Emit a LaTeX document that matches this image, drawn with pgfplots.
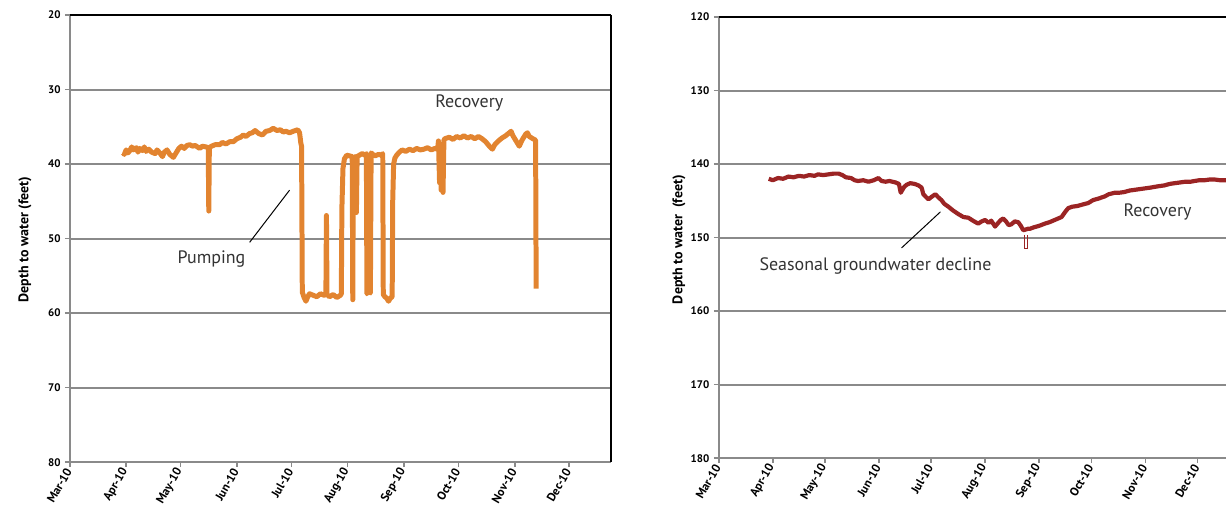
\documentclass[border=0pt]{standalone}
\usepackage{fontspec}
\setmainfont{PT Sans}
\usepackage{pgfplots}
\pgfplotsset{compat=1.18}
\definecolor{orng}{RGB}{226,132,48}
\definecolor{dred}{RGB}{155,36,36}
\definecolor{gridg}{RGB}{138,138,138}
\pgfplotsset{
 wellaxis/.style={
  scale only axis, xmin=0, y dir=reverse,
  xtick={0,31,61,92,122,153,184,214,245,275},
  xticklabels={Mar-10,Apr-10,May-10,Jun-10,Jul-10,Aug-10,Sep-10,Oct-10,Nov-10,Dec-10},
  axis line style={draw=none},
  ymajorgrids, major grid style={gridg, line width=1pt},
  tick align=outside, tick style={gridg, line width=0.8pt}, major tick length=2.5pt,
  xtick pos=bottom, ytick pos=left,
  /pgf/number format/assume math mode=true,
  ticklabel style={font=\fontsize{5.5}{6.5}\selectfont\bfseries},
  x tick label style={rotate=60, anchor=east, inner sep=1pt, font=\fontsize{6}{7}\selectfont\bfseries},
  y tick label style={inner sep=2pt},
  clip=false,
 }
}
\begin{document}
\begin{tikzpicture}
\path (0pt,0pt) rectangle (614pt,255pt);
% ---------------- left chart ----------------
\begin{axis}[wellaxis, at={(35pt,23.5pt)}, anchor=south west, xmax=298,
  width=271pt, height=224pt, ymin=20, ymax=80, ytick={20,30,...,80}]
\addplot[orng, line width=2.5pt, line join=round] coordinates {
(29.3,38.5)(30,38.7)(31,38.1)(32,38.5)(33,38.2)(34,37.7)(35,38.1)(36.6,37.8)(37.5,38.4)(38.5,37.9)
(40,38.2)(41,37.7)(42,38.3)(43.5,38.0)(45,38.4)(47,38.6)(48,38.1)(49.5,38.5)(51,39.0)(52,38.4)
(53.5,38.1)(55,38.7)(57,39.1)(58.5,38.5)(60,37.9)(61.5,37.6)(63,37.9)(64.5,37.5)(66,37.4)(67.5,37.6)
(69,37.5)(71.5,37.9)(73,37.6)(75,37.7)(76.2,37.8)(76.5,46.3)(76.8,37.8)(78,37.6)(80,37.4)(82.5,37.4)
(84,37.1)(86,37.3)(88,37.0)(90,37.0)(92,36.6)(94,36.4)(95.5,36.1)(97,36.3)(99,35.9)(100.5,35.8)
(102,35.5)(104,35.9)(106,36.1)(108,35.6)(110,35.5)(112,35.2)(114,35.5)(116,35.4)(117.5,35.7)(119,35.6)
(121,35.8)(123,35.6)(125.5,35.4)(126.5,35.8)(127.2,37.2)(127.6,37.6)(128,57.2)(129,57.9)(130,58.4)(131,57.8)
(132,57.4)(134,57.6)(136,57.8)(138,57.4)(140,57.6)(141,57.5)(141.3,46.9)(141.6,57.5)(143,57.8)(145,57.5)
(147,57.9)(149,57.6)(149.5,57.4)(149.8,46)(150.4,40.6)(151.2,39.3)(152.5,38.8)(154,38.9)(155.5,39.0)(155.8,58.2)
(156.1,39.3)(157,39.0)(157.5,39.2)(157.8,46.5)(158.2,39.0)(159.5,38.8)(161,38.6)(162.5,38.8)(163.3,38.6)(163.6,57.4)
(164.5,57.0)(165.5,57.3)(165.9,38.5)(166.8,38.7)(168,38.9)(170,38.7)(171.5,38.8)(172.3,38.6)(172.6,57.5)(173.5,57.8)
(174.5,58.0)(175.5,58.4)(176.5,58.0)(177.5,57.8)(177.8,45)(178.3,40)(179,39.2)(180,38.8)(181.5,38.4)(183,38.1)
(185,38.3)(187,38.0)(189,38.2)(191,37.9)(193,38.1)(195,38.0)(197,37.8)(199,38.1)(201,37.9)(202.5,38.0)
(203,36.9)(203.6,42.5)(204,39.0)(204.5,43.5)(205,38.2)(205.5,43.8)(206,36.8)(206.5,36.6)(209,36.4)(211,36.7)
(213,36.3)(215,36.5)(217,36.2)(219,36.5)(221,36.3)(223,36.6)(225,36.3)(227,36.6)(229,37.0)(231,37.6)
(232.7,38.0)(234,37.4)(236,36.9)(238,36.5)(240,36.2)(242,35.8)(243,35.6)(244,36.2)(246,37.0)(247.5,37.6)
(249,36.8)(251,36.0)(252,35.8)(253,36.3)(255,36.6)(256.5,36.8)(256.8,56.7)
};
\draw[gridg, line width=1pt] (axis cs:0,20) -- (axis cs:0,80) -- (axis cs:298,80);
\draw[black, line width=1.2pt] (axis cs:0,20) -- (axis cs:298,20);
\draw[black, line width=0.8pt] (axis cs:298,20) -- (axis cs:298,80);
\draw[black, line width=0.5pt] (axis cs:99,50.5) -- (axis cs:121,43.5);
\node[font=\fontsize{9}{10}\selectfont, text=black!80] at (axis cs:78,52.8) {Pumping};
\node[font=\fontsize{9}{10}\selectfont, text=black!80] at (axis cs:220,31.8) {Recovery};
\end{axis}
\node[rotate=90, font=\fontsize{7}{8}\selectfont\bfseries] at (12.5pt,135pt) {Depth to water (feet)};
% ---------------- right chart (cut at the right edge) ----------------
\begin{axis}[wellaxis, at={(360pt,25.5pt)}, anchor=south west, xmax=291.3,
  width=254pt, height=221pt, ymin=120, ymax=180, ytick={120,130,...,180}]
\addplot[dred, line width=2.1pt, line join=round] coordinates {
(28.7,142.0)(31,142.2)(34,141.9)(37,142.0)(40,141.7)(43,141.8)(46,141.6)(49,141.7)(52,141.5)(55,141.6)
(57,141.4)(60,141.5)(63,141.4)(66,141.3)(68.8,141.3)(71,141.5)(73,141.8)(76,141.9)(78,142.2)(80,142.3)
(83,142.2)(86,142.4)(89,142.2)(91.7,141.9)(93.5,142.3)(95.8,142.4)(98,142.3)(101.5,142.5)(103.5,142.7)(104.5,143.9)
(105.5,143.5)(106.5,143.1)(108,142.8)(110,142.6)(112.5,142.7)(114.7,142.9)(116.5,143.2)(117.5,144.1)(118.7,144.4)(120.4,144.8)
(122,144.5)(124.4,144.1)(126,144.5)(127.9,144.9)(129.5,145.4)(131.9,145.8)(134.5,146.3)(137.6,146.8)(140.5,147.2)(143.4,147.3)
(146,147.7)(149,148.1)(151,147.8)(153,147.6)(155,148.0)(156.5,147.7)(158.7,148.5)(160.5,148.0)(162,147.6)(163.4,147.4)
(165,147.8)(166.5,148.3)(168,148.2)(170,147.8)(172,147.9)(173.5,148.4)(174.9,149.0)(176.3,148.9)(177.5,148.8)(178.7,148.8)
(181,148.6)(184,148.4)(187.3,148.1)(190,147.9)(193,147.6)(196.9,147.2)(199,146.5)(200.7,146.0)(203,145.8)(206,145.7)
(209,145.5)(212.2,145.3)(215,144.9)(218,144.7)(221.7,144.4)(224,144.1)(227.5,143.9)(230,143.9)(233,143.8)(236,143.6)
(239,143.5)(242,143.4)(245,143.3)(248,143.2)(250.4,143.1)(253,143.0)(256,142.9)(259,142.7)(261.9,142.6)(265,142.5)
(268,142.4)(271,142.4)(273.3,142.3)(276,142.2)(279,142.2)(282,142.1)(284.8,142.1)(288,142.2)(291.3,142.2)
};
\addplot[dred, line width=0.45pt] coordinates {(175.4,149.6)(175.4,151.5)(177.2,151.5)(177.2,149.6)};
\draw[gridg, line width=1pt] (axis cs:0,120) -- (axis cs:0,180) -- (axis cs:291.3,180);
\draw[black, line width=1.2pt] (axis cs:0,120) -- (axis cs:291.3,120);
\draw[black, line width=0.5pt] (axis cs:105,151.4) -- (axis cs:127.3,146.5);
\node[font=\fontsize{9}{10}\selectfont, text=black!80] at (axis cs:90,153.8) {Seasonal groundwater decline};
\node[font=\fontsize{9}{10}\selectfont, text=black!80] at (axis cs:252,146.5) {Recovery};
\end{axis}
\node[rotate=90, font=\fontsize{7}{8}\selectfont\bfseries] at (340pt,135pt) {Depth to water\ \ (feet)};
\end{tikzpicture}
\end{document}
